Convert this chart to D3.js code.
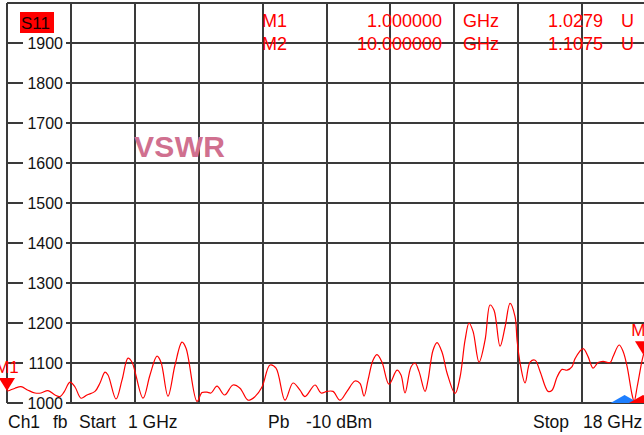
<!DOCTYPE html>
<html>
<head>
<meta charset="utf-8">
<script src="https://cdn.jsdelivr.net/npm/d3@7"></script>
<style>
  body { margin: 0; background: #fff; }
  svg { display: block; }
  text { font-family: "Liberation Sans", Arial, sans-serif; }
</style>
</head>
<body>
<script>
'use strict';

// trace S11 (VSWR, shown in milli-units)
var freqGHz = [
    1.000, 1.080, 1.213, 1.372, 1.559, 1.745, 1.905, 2.091, 2.277, 2.410,
    2.516, 2.676, 2.809, 2.969, 3.128, 3.341, 3.474, 3.607, 3.687, 3.900,
    4.059, 4.219, 4.326, 4.618, 4.804, 4.991, 5.097, 5.283, 5.470, 5.656,
    5.763, 6.055, 6.188, 6.321, 6.427, 6.587, 6.789, 7.012, 7.199, 7.412,
    7.598, 7.784, 7.997, 8.157, 8.396, 8.609, 8.795, 8.928, 9.194, 9.354,
    9.513, 9.673, 9.859, 10.045, 10.258, 10.391, 10.498, 10.604, 10.737, 10.844,
    10.977, 11.163, 11.376, 11.482, 11.589, 11.748, 11.855, 11.961, 12.121, 12.201,
    12.334, 12.440, 12.574, 12.707, 12.920, 13.053, 13.186, 13.292, 13.399, 13.558,
    13.718, 13.851, 13.957, 14.117, 14.250, 14.383, 14.516, 14.570, 14.650, 14.783,
    14.916, 15.049, 15.182, 15.395, 15.501, 15.634, 15.767, 15.900, 16.033, 16.113,
    16.326, 16.459, 16.592, 16.725, 16.858, 17.045, 17.125, 17.285, 17.391, 17.498,
    17.631, 17.684, 17.764, 17.897, 17.950
];
var vswr = [
    1030, 1032, 1037, 1041, 1032, 1025, 1025, 1031, 1020, 1016,
    1027, 1052, 1040, 1012, 1020, 1029, 1050, 1077, 1070, 1010,
    1057, 1112, 1102, 1012, 1070, 1117, 1102, 1017, 1095, 1152,
    1137, 1004, 1026, 1027, 1025, 1042, 1020, 1045, 1037, 1007,
    1016, 1040, 1095, 1087, 1007, 1050, 1032, 1016, 1045, 1025,
    1029, 1029, 1007, 1029, 1055, 1049, 1017, 1057, 1107, 1121,
    1102, 1047, 1082, 1070, 1025, 1090, 1100, 1079, 1029, 1057,
    1132, 1151, 1127, 1075, 1024, 1065, 1157, 1200, 1179, 1102,
    1157, 1245, 1232, 1142, 1190, 1249, 1216, 1157, 1100, 1050,
    1102, 1107, 1079, 1029, 1032, 1065, 1084, 1082, 1091, 1111,
    1136, 1116, 1087, 1101, 1104, 1101, 1116, 1145, 1129, 1091,
    1020, 1004, 1040, 1107, 1127
];

var yTickLabels = [1000, 1100, 1200, 1300, 1400, 1500, 1600, 1700, 1800, 1900];
var markerNames = ['M1', 'M2'];
var markerFreq = [1.0, 17.92];
var markerValue = [1030, 1122];
var markerStim = ['1.000000', '10.000000'];
var markerResp = ['1.0279', '1.1075'];
var stimTriFreq = [17.43, 17.92];
var stimTriColor = ['#1e7fff', '#ff0000'];
var statusWords = ['Ch1', 'fb', 'Start', '1 GHz', 'Pb', '-10 dBm', 'Stop', '18 GHz'];

var W = 644, H = 435;
var RED = '#ff0000';
var GRID = '#3a3a3a';

var svg = d3.select('body').append('svg')
    .attr('width', W)
    .attr('height', H);

var x = d3.scaleLinear().domain([1, 18]).range([7, 646]);
var y = d3.scaleLinear().domain([1000, 2000]).range([403, 3]);

// grid: 10 x 10 divisions
var grid = svg.append('g');
var xDivs = d3.range(11).map(function(i) { return 1 + i * 1.7; });
var yDivs = d3.range(11).map(function(i) { return 1000 + i * 100; });

grid.selectAll('line.v').data(xDivs).enter().append('line')
    .attr('class', 'v')
    .attr('x1', function(d) { return Math.round(x(d)); })
    .attr('x2', function(d) { return Math.round(x(d)); })
    .attr('y1', y(2000)).attr('y2', y(1000))
    .attr('stroke', GRID).attr('stroke-width', 2);

grid.selectAll('line.h').data(yDivs).enter().append('line')
    .attr('class', 'h')
    .attr('x1', x(1)).attr('x2', W + 5)
    .attr('y1', function(d) { return y(d); })
    .attr('y2', function(d) { return y(d); })
    .attr('stroke', GRID).attr('stroke-width', 2);

// y labels sit on the grid lines with a white gap behind them
var yl = svg.append('g').selectAll('g').data(yTickLabels).enter().append('g')
    .attr('transform', function(d) { return 'translate(0,' + y(d) + ')'; });
yl.append('rect')
    .attr('x', 23).attr('y', -3).attr('width', 43).attr('height', 6)
    .attr('fill', '#fff');
yl.append('text')
    .attr('x', 63).attr('y', 6)
    .attr('text-anchor', 'end')
    .attr('font-size', 16)
    .attr('fill', '#111')
    .text(function(d) { return d; });

// trace
var pts = freqGHz.map(function(f, i) { return [f, vswr[i]]; });
var line = d3.line()
    .x(function(d) { return x(d[0]); })
    .y(function(d) { return y(d[1]); })
    .curve(d3.curveCatmullRom.alpha(0.5));

svg.append('path')
    .datum(pts)
    .attr('d', line)
    .attr('fill', 'none')
    .attr('stroke', RED)
    .attr('stroke-width', 1.2);

// S11 tag
svg.append('rect')
    .attr('x', 20).attr('y', 12).attr('width', 34).attr('height', 21)
    .attr('fill', RED);
svg.append('text')
    .attr('x', 21).attr('y', 29)
    .attr('font-size', 17)
    .attr('fill', '#1a0000')
    .text('S11');

// marker table
var table = svg.append('g').selectAll('g').data(markerNames).enter().append('g')
    .attr('transform', function(d, i) { return 'translate(0,' + (27 + i * 23) + ')'; })
    .attr('font-size', 18)
    .attr('fill', RED);
table.append('text').attr('x', 262).text(function(d) { return d; });
table.append('text').attr('x', 442).attr('text-anchor', 'end')
    .text(function(d, i) { return markerStim[i]; });
table.append('text').attr('x', 463).text('GHz');
table.append('text').attr('x', 603).attr('text-anchor', 'end')
    .text(function(d, i) { return markerResp[i]; });
table.append('text').attr('x', 621).text('U');

// format title
svg.append('text')
    .attr('x', 134).attr('y', 157)
    .attr('font-size', 30)
    .attr('font-weight', 'bold')
    .attr('fill', '#d0708f')
    .attr('textLength', 91)
    .text('VSWR');

// markers on the trace
var mk = svg.append('g').selectAll('g').data(markerNames).enter().append('g')
    .attr('transform', function(d, i) {
        return 'translate(' + x(markerFreq[i]) + ',' + y(markerValue[i]) + ')';
    });
mk.append('path')
    .attr('d', 'M-8,-13L8,-13L0,0Z')
    .attr('fill', RED);
mk.append('text')
    .attr('x', 0).attr('y', -18)
    .attr('text-anchor', 'middle')
    .attr('font-size', 17)
    .attr('fill', RED)
    .text(function(d) { return d; });

// stimulus indicators on the bottom edge
svg.append('g').selectAll('path').data(stimTriFreq).enter().append('path')
    .attr('d', function(d) {
        var cx = x(d);
        return 'M' + (cx - 14) + ',' + 403 + 'L' + cx + ',395L' + (cx + 14) + ',403Z';
    })
    .attr('fill', function(d, i) { return stimTriColor[i]; });

// status line under the grid
var statusX = [8, 53, 79, 128, 268, 306, 533, 583];
svg.append('g').selectAll('text').data(statusWords).enter().append('text')
    .attr('x', function(d, i) { return statusX[i]; })
    .attr('y', 428)
    .attr('font-size', 17.5)
    .attr('fill', '#111')
    .text(function(d) { return d; });
</script>
</body>
</html>
